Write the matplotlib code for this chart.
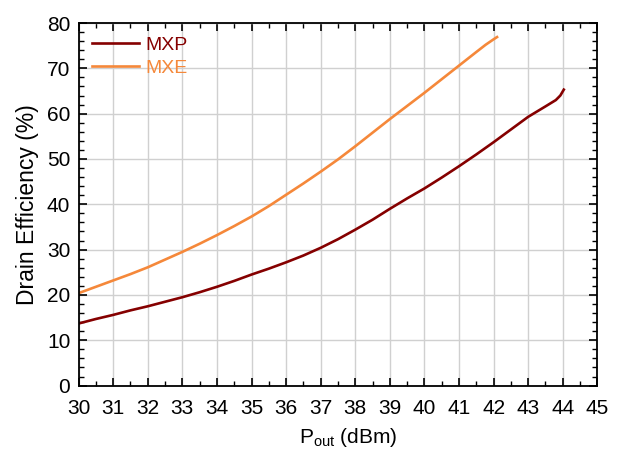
import matplotlib.pyplot as plt
import numpy as np
from matplotlib.ticker import MultipleLocator

plt.rcParams['font.family'] = ['Liberation Sans', 'DejaVu Sans']

# MXP drain efficiency vs output power
pout_mxp = [30.0, 30.5, 31.0, 31.5, 32.0, 32.5, 33.0, 33.5, 34.0, 34.5, 35.0,
            35.5, 36.0, 36.5, 37.0, 37.5, 38.0, 38.5, 39.0, 39.5, 40.0, 40.5,
            41.0, 41.5, 42.0, 42.5, 43.0, 43.5, 43.8, 43.93, 44.03]
eff_mxp = [13.7, 14.7, 15.6, 16.6, 17.5, 18.5, 19.5, 20.6, 21.8, 23.1, 24.5,
           25.8, 27.2, 28.7, 30.4, 32.3, 34.4, 36.6, 39.0, 41.3, 43.5, 45.9,
           48.4, 51.0, 53.7, 56.5, 59.3, 61.6, 63.0, 64.0, 65.3]

# MXE drain efficiency vs output power
pout_mxe = [30.0, 30.5, 31.0, 31.5, 32.0, 32.5, 33.0, 33.5, 34.0, 34.5, 35.0,
            35.5, 36.0, 36.5, 37.0, 37.5, 38.0, 38.5, 39.0, 39.5, 40.0, 40.5,
            41.0, 41.5, 41.77, 42.0, 42.1]
eff_mxe = [20.4, 21.8, 23.2, 24.6, 26.1, 27.8, 29.5, 31.3, 33.2, 35.2, 37.3,
           39.6, 42.1, 44.6, 47.2, 49.9, 52.8, 55.8, 58.8, 61.7, 64.6, 67.6,
           70.6, 73.6, 75.2, 76.4, 76.9]

fig, ax = plt.subplots(figsize=(6.19, 4.51), dpi=100)
fig.subplots_adjust(left=0.127, right=0.965, top=0.949, bottom=0.145)

ax.plot(pout_mxp, eff_mxp, color='#850000', lw=1.9, label='MXP')
ax.plot(pout_mxe, eff_mxe, color='#F5883A', lw=1.9, label='MXE')

ax.set_xlim(30, 45)
ax.set_ylim(0, 80)
ax.xaxis.set_major_locator(MultipleLocator(1))
ax.xaxis.set_minor_locator(MultipleLocator(0.5))
ax.yaxis.set_major_locator(MultipleLocator(10))
ax.yaxis.set_minor_locator(MultipleLocator(2))
ax.tick_params(which='both', direction='in', top=True, right=True, labelsize=15)
ax.tick_params(which='major', length=6, width=1.2)
ax.tick_params(which='minor', length=3.5, width=1.0)
ax.tick_params(axis='x', pad=10)
ax.tick_params(axis='y', pad=6)
for s in ax.spines.values():
    s.set_linewidth(1.3)

ax.grid(True, which='major', color='#d0d0d0', lw=1.0)
ax.set_axisbelow(True)

ax.set_xlabel(r'P$_{\mathregular{out}}$ (dBm)', fontsize=15)
ax.xaxis.set_label_coords(0.52, -0.112)
ax.set_ylabel('Drain Efficiency (%)', fontsize=16.5, labelpad=6)

leg = ax.legend(loc='upper left', frameon=False, fontsize=14, handlelength=2.4,
                handletextpad=0.35, labelspacing=0.25, borderaxespad=0.5,
                borderpad=0.2)
for txt, line in zip(leg.get_texts(), leg.get_lines()):
    txt.set_color(line.get_color())

plt.savefig('out.png')
